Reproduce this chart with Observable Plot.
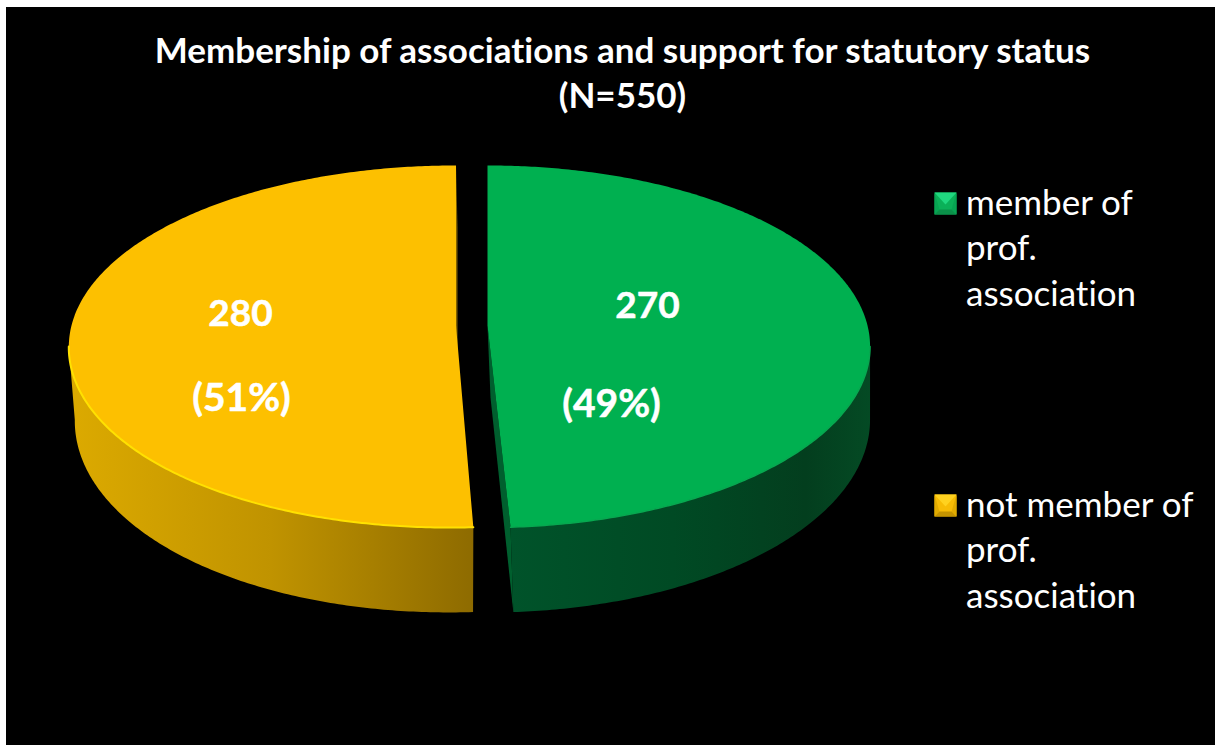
<!DOCTYPE html>
<html>
<head>
<meta charset="utf-8">
<script src="https://cdn.jsdelivr.net/npm/d3@7"></script>
<script src="https://cdn.jsdelivr.net/npm/@observablehq/plot@0.6"></script>
<style>
  html, body { margin: 0; padding: 0; background: #fff; overflow: hidden; }
  #panel { position: absolute; left: 6px; top: 7px; width: 1209px; height: 738px; background: #000; overflow: hidden; font-variant-ligatures: none; }
  #title { position: absolute; left: 0; top: 19.5px; width: 1233px; text-align: center; color: #fff;
           font: bold 35px/45px Lato, sans-serif; margin: 0; white-space: nowrap; font-variant-ligatures: none; }
  #chart { position: absolute; left: 0; top: 113px; }
  #chart svg { display: block; }
  #chart text { font-variant-ligatures: none; }
</style>
</head>
<body>
<div id="panel">
  <h2 id="title"></h2>
  <div id="chart"></div>
</div>
<script>
const titleLines = ["Membership of associations and support for statutory status", "(N=550)"];
const categories = ["member of prof. association", "not member of prof. association"];
const legendLines = [["member of", "prof.", "association"], ["not member of", "prof.", "association"]];
const values = [270, 280];
const percents = ["(49%)", "(51%)"];

const topColors = ["#00B050", "#FDC000"];
const rimColors = ["#07A850", "#FFE100"];

document.getElementById("title").innerHTML = titleLines.join("<br>");

// Disc geometry, in page pixels
const k = 0.116;
const A = [380, 384.5], B = 178.6, apexY = 325;
const A2 = [377, 380], B2 = 190, apexY2 = 397;
const apexX = [487, 455.5];
const lowerApexX = [490, 457];
const frontShift = [-1.5, -7.5];
const lowerFrontShift = [-1.5, -9];
const FONT = "Lato, sans-serif";

const TAU = 2 * Math.PI;
const arcs = d3.pie().sort(null)(values);

function topPt(i, angle, r = 1) {
  const u = r * Math.sin(angle), v = r * Math.cos(angle), s = 1 / (1 + k * v);
  return {x: apexX[i] + A[i] * u * s + frontShift[i] * Math.min(v, 0) ** 2, y: apexY - B * v * s};
}
function lowPt(i, angle, r = 1) {
  const u = r * Math.sin(angle), v = r * Math.cos(angle), s = 1 / (1 + k * v);
  return {x: lowerApexX[i] + A2[i] * u * s + lowerFrontShift[i] * Math.min(v, 0) ** 2, y: apexY2 - B2 * v * s};
}
function steps(a0, a1) {
  const n = Math.max(2, Math.ceil(Math.abs(a1 - a0) / 0.01));
  return d3.range(n + 1).map(j => a0 + (a1 - a0) * j / n);
}

const extremeAngle = Math.acos(-k);
const frontRange = [
  [extremeAngle, arcs[0].endAngle],            // green: right extreme -> front cut
  [arcs[1].startAngle, TAU - extremeAngle]     // yellow: front cut -> left extreme
];

const topSlice = i => [topPt(i, 0, 0), ...steps(arcs[i].startAngle, arcs[i].endAngle).map(a => topPt(i, a))];
const wall = i => {
  const [a0, a1] = frontRange[i];
  return [...steps(a0, a1).map(a => topPt(i, a)), ...steps(a1, a0).map(a => lowPt(i, a))];
};
const rim = i => steps(...frontRange[i]).map(a => topPt(i, a));
const greenCutWall = [topPt(0, 0, 0), lowPt(0, 0, 0), lowPt(0, arcs[0].endAngle), topPt(0, arcs[0].endAngle)];
const yellowCutWall = [topPt(1, TAU), topPt(1, 0, 0), lowPt(1, 0, 0), lowPt(1, TAU)];

// Bevelled legend swatches as custom dot symbols
const half = size => Math.sqrt(size / Math.PI);
const inset = 0.55;
const facet = pts => ({draw(ctx, size) {
  const r = half(size);
  pts.forEach(([x, y], j) => j ? ctx.lineTo(x * r, y * r) : ctx.moveTo(x * r, y * r));
  ctx.closePath();
}});
const symSquare = facet([[-1,-1],[1,-1],[1,1],[-1,1]]);
const symTop = facet([[-1,-1],[1,-1],[0,0.1]]);
const symBottom = facet([[-1,1],[1,1],[inset,inset],[-inset,inset]]);
const symSides = facet([[-1,-1],[-inset,inset],[-1,1]]);
const symSides2 = facet([[1,-1],[inset,inset],[1,1]]);

const legendSwatches = [{x: 945, y: 203, i: 0}, {x: 945, y: 505, i: 1}];
const swatchColors = [
  {base: "#0BB058", top: "#20D77F", bottom: "#0A9049", side: "#07A452"},
  {base: "#F7BC05", top: "#FFD21F", bottom: "#C59400", side: "#E2AB00"}
];
const legendText = legendLines.flatMap((lines, i) =>
  lines.map((t, j) => ({t, x: 965.5, y: (i ? 505 : 203) + j * 45.5})));

const numberLabels = [
  {t: String(values[0]), x: 647, y: 306},
  {t: String(values[1]), x: 240, y: 314}
];
const percentLabels = [
  {t: percents[0], x: 611, y: 404},
  {t: percents[1], x: 241, y: 398}
];

const defs = () => {
  const NS = "http://www.w3.org/2000/svg";
  const d = document.createElementNS(NS, "defs");
  const grads = {
    wallGreen: [["0%", "#00532A"], ["45%", "#004A24"], ["82%", "#033E1E"], ["100%", "#044A24"]],
    wallYellow: [["0%", "#DCAA00"], ["50%", "#C09300"], ["100%", "#8E6B00"]]
  };
  for (const [id, stops] of Object.entries(grads)) {
    const g = document.createElementNS(NS, "linearGradient");
    g.setAttribute("id", id);
    g.setAttribute("x1", "0"); g.setAttribute("x2", "1");
    g.setAttribute("y1", "0"); g.setAttribute("y2", "0");
    for (const [o, c] of stops) {
      const s = document.createElementNS(NS, "stop");
      s.setAttribute("offset", o); s.setAttribute("stop-color", c);
      g.appendChild(s);
    }
    d.appendChild(g);
  }
  return d;
};

const poly = (pts, fill) => Plot.line(pts, {x: "x", y: "y", fill, stroke: "none"});
const swatch = (sym, key) => legendSwatches.map(d =>
  Plot.dot([d], {x: "x", y: "y", r: 11, symbol: sym, fill: swatchColors[d.i][key], stroke: "none"}));

const svg = Plot.plot({
  width: 1209,
  height: 625,
  margin: 0,
  x: {domain: [6, 1215], range: [0, 1209], axis: null},
  y: {domain: [120, 745], range: [0, 625], axis: null},
  style: {background: "transparent", overflow: "hidden"},
  marks: [
    defs,
    poly(yellowCutWall, "#7F6000"),
    poly(wall(1), "url(#wallYellow)"),
    poly(wall(0), "url(#wallGreen)"),
    poly(greenCutWall, "#005F2E"),
    poly(topSlice(1), topColors[1]),
    poly(topSlice(0), topColors[0]),
    Plot.line(rim(1), {x: "x", y: "y", stroke: rimColors[1], strokeWidth: 2}),
    Plot.line(rim(0), {x: "x", y: "y", stroke: rimColors[0], strokeWidth: 1.5}),
    Plot.text(numberLabels, {x: "x", y: "y", text: "t", fill: "#fff", stroke: "#fff", strokeWidth: 0.5, fontFamily: FONT, fontWeight: "bold", fontSize: 37}),
    Plot.text(percentLabels, {x: "x", y: "y", text: "t", fill: "#fff", stroke: "#fff", strokeWidth: 0.5, fontFamily: FONT, fontWeight: "bold", fontSize: 39}),
    ...swatch(symSquare, "base"),
    ...swatch(symSides, "side"),
    ...swatch(symSides2, "side"),
    ...swatch(symBottom, "bottom"),
    ...swatch(symTop, "top"),
    Plot.text(legendText, {x: "x", y: "y", text: "t", fill: "#fff", fontFamily: FONT, fontSize: 35, textAnchor: "start"})
  ]
});
document.getElementById("chart").appendChild(svg);
</script>
</body>
</html>
